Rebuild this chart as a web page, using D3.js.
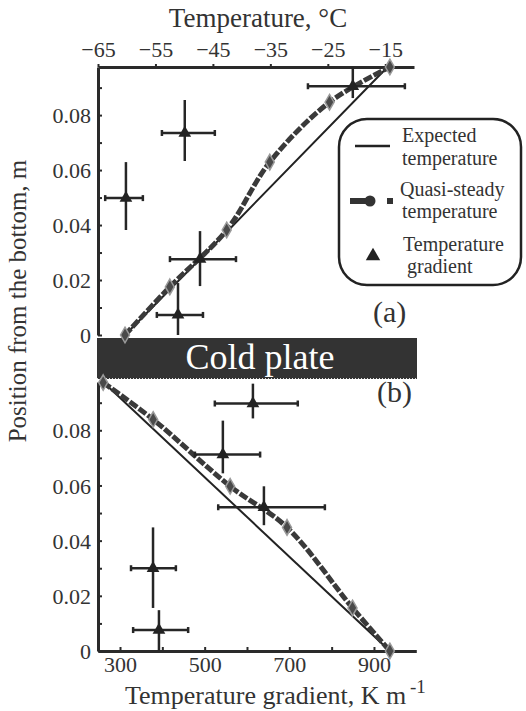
<!DOCTYPE html>
<html>
<head>
<meta charset="utf-8">
<script src="https://cdn.jsdelivr.net/npm/d3@7"></script>
<style>
  body { margin: 0; background: #fff; }
  svg text { font-family: "Liberation Serif", "Times New Roman", Times, "DejaVu Serif", serif; fill: #333; }
</style>
</head>
<body>
<div id="chart"></div>
<script>
"use strict";

// axis ticks
const tempTicks = [-65, -55, -45, -35, -25, -15];
const gradTicks = [300, 400, 500, 600, 700, 800, 900];
const gradLabels = [300, 500, 700, 900];
const posTicks = [0, 0.01, 0.02, 0.03, 0.04, 0.05, 0.06, 0.07, 0.08, 0.09];
const posLabels = [0, 0.02, 0.04, 0.06, 0.08];

// panel (a): above the cold plate
const expA_T = [-60.3, -42.6, -14.6];
const expA_pos = [0, 0.0375, 0.0975];
const qsA_T = [-60.3, -52.5, -42.6, -35.1, -24.7, -14.2];
const qsA_pos = [0, 0.0175, 0.0382, 0.0629, 0.0847, 0.0975];
const gradA = [453, 314, 489, 437, 850];
const gradA_lo = [399, 265, 418, 387, 744];
const gradA_hi = [524, 354, 574, 496, 973];
const gradA_pos = [0.0735, 0.0498, 0.0276, 0.0073, 0.0905];
const gradA_posLo = [0.0633, 0.0382, 0.0178, 0, 0.0862];
const gradA_posHi = [0.0855, 0.0629, 0.0378, 0.0189, 0.0975];

// panel (b): below the cold plate
const expB_T = [-64.1, -14.2];
const expB_pos = [0.0975, 0];
const qsB_T = [-64.1, -55.4, -42.0, -32.1, -20.7, -14.2];
const qsB_pos = [0.0973, 0.0839, 0.0597, 0.0448, 0.0156, 0];
const gradB = [614, 543, 640, 378, 392];
const gradB_lo = [524, 477, 532, 326, 331];
const gradB_hi = [720, 631, 784, 432, 461];
const gradB_pos = [0.0897, 0.0712, 0.0521, 0.0300, 0.0076];
const gradB_posLo = [0.0843, 0.0644, 0.0456, 0.0156, 0];
const gradB_posHi = [0.0969, 0.0835, 0.0597, 0.0448, 0.0148];

const size = { width: 526, height: 711 };
const left = 98;
const serif = "'Liberation Serif', 'Times New Roman', Times, 'DejaVu Serif', serif";

let svg = "";

window.onload = function () {
  svg = d3.select("#chart").append("svg")
    .attr("width", size.width)
    .attr("height", size.height)
    .style("font-family", serif);

  const xT = d3.scaleLinear().domain([-65, -10]).range([left, 414]);
  const xG = d3.scaleLinear().domain([248, 1000]).range([left, 416.3]);
  const yA = d3.scaleLinear().domain([0, 0.0975]).range([335, 67]);
  const yB = d3.scaleLinear().domain([0, 0.0975]).range([651, 382]);

  drawAxes(xT, xG, yA, yB);
  drawColdPlate();

  drawPanel(xT, xG, yA, {
    expT: expA_T, expPos: expA_pos, qsT: qsA_T, qsPos: qsA_pos,
    g: gradA, gLo: gradA_lo, gHi: gradA_hi, p: gradA_pos, pLo: gradA_posLo, pHi: gradA_posHi
  });
  drawPanel(xT, xG, yB, {
    expT: expB_T, expPos: expB_pos, qsT: qsB_T, qsPos: qsB_pos,
    g: gradB, gLo: gradB_lo, gHi: gradB_hi, p: gradB_pos, pLo: gradB_posLo, pHi: gradB_posHi
  });

  drawLegend();
  makeLabels();
};

function drawAxes(xT, xG, yA, yB) {
  let fmt = d => d === 0 ? "0" : d.toFixed(2);

  let top = svg.append("g")
    .attr("transform", "translate(0," + yA.range()[1] + ")")
    .call(d3.axisTop(xT).tickValues(tempTicks).tickSizeInner(3).tickSizeOuter(0).tickPadding(7));

  let bottom = svg.append("g")
    .attr("transform", "translate(0," + yB.range()[0] + ")")
    .call(d3.axisBottom(xG).tickValues(gradTicks).tickSizeInner(-4).tickSizeOuter(0).tickPadding(5)
      .tickFormat(d => gradLabels.includes(d) ? d : ""));

  let leftA = svg.append("g")
    .attr("transform", "translate(" + left + ",0)")
    .call(d3.axisLeft(yA).tickValues(posTicks).tickSizeInner(-4).tickSizeOuter(0).tickPadding(7)
      .tickFormat(d => posLabels.some(v => Math.abs(v - d) < 1e-9) ? fmt(d) : ""));

  let leftB = svg.append("g")
    .attr("transform", "translate(" + left + ",0)")
    .call(d3.axisLeft(yB).tickValues(posTicks).tickSizeInner(-4).tickSizeOuter(0).tickPadding(7)
      .tickFormat(d => posLabels.some(v => Math.abs(v - d) < 1e-9) ? fmt(d) : ""));

  [top, bottom, leftA, leftB].forEach(g => {
    g.attr("font-family", null);
    g.select(".domain").attr("stroke", "#2a2a2a").attr("stroke-width", 3);
    g.selectAll(".tick line").attr("stroke", "#2a2a2a").attr("stroke-width", 2);
    g.selectAll(".tick text")
      .style("font-family", serif)
      .style("font-size", "22px")
      .attr("fill", "#444");
  });
  leftA.selectAll(".tick text").attr("dy", "0.35em");
  leftB.selectAll(".tick text").attr("dy", "0.35em");
}

function drawColdPlate() {
  svg.append("rect")
    .attr("x", 97).attr("y", 338)
    .attr("width", 320).attr("height", 41)
    .attr("fill", "#333");

  svg.append("line")
    .attr("x1", 97).attr("x2", 417)
    .attr("y1", 378.5).attr("y2", 378.5)
    .attr("stroke", "#ddd").attr("stroke-width", 1)
    .attr("stroke-dasharray", "1,2");

  svg.append("text")
    .attr("x", 260).attr("y", 369)
    .attr("text-anchor", "middle")
    .style("font-size", "36px")
    .style("fill", "#fff")
    .text("Cold plate");
}

function drawPanel(xT, xG, y, d) {
  let line = d3.line().x(p => xT(p[0])).y(p => y(p[1]));

  // expected temperature
  svg.append("path")
    .datum(d.expT.map((t, i) => [t, d.expPos[i]]))
    .attr("d", line)
    .attr("fill", "none")
    .attr("stroke", "#222")
    .attr("stroke-width", 2);

  // quasi-steady temperature
  let qs = d.qsT.map((t, i) => [t, d.qsPos[i]]);
  svg.append("path")
    .datum(qs)
    .attr("d", line.curve(d3.curveCatmullRom.alpha(0.5)))
    .attr("fill", "none")
    .attr("stroke", "#3a3a3a")
    .attr("stroke-width", 5)
    .attr("stroke-dasharray", "9,2");

  svg.selectAll(null)
    .data(qs)
    .enter()
    .append("path")
    .attr("transform", p => "translate(" + xT(p[0]) + "," + y(p[1]) + ")")
    .attr("d", d3.symbol().type(d3.symbolDiamond).size(70))
    .attr("fill", "#4a4a4a")
    .attr("stroke", "#9a9a9a")
    .attr("stroke-width", 1.5);

  // temperature gradient with error bars
  let pts = d.g.map((g, i) => ({ g: g, lo: d.gLo[i], hi: d.gHi[i], p: d.p[i], pLo: d.pLo[i], pHi: d.pHi[i] }));
  let bars = svg.append("g").attr("stroke", "#262626").attr("stroke-width", 2.5);

  pts.forEach(p => {
    bars.append("line")
      .attr("x1", xG(p.lo)).attr("x2", xG(p.hi))
      .attr("y1", y(p.p)).attr("y2", y(p.p));
    bars.append("line")
      .attr("x1", xG(p.lo)).attr("x2", xG(p.lo))
      .attr("y1", y(p.p) - 3).attr("y2", y(p.p) + 3);
    bars.append("line")
      .attr("x1", xG(p.hi)).attr("x2", xG(p.hi))
      .attr("y1", y(p.p) - 3).attr("y2", y(p.p) + 3);
    bars.append("line")
      .attr("x1", xG(p.g)).attr("x2", xG(p.g))
      .attr("y1", y(p.pLo)).attr("y2", y(p.pHi));
  });

  svg.selectAll(null)
    .data(pts)
    .enter()
    .append("path")
    .attr("transform", p => "translate(" + xG(p.g) + "," + y(p.p) + ")")
    .attr("d", d3.symbol().type(d3.symbolTriangle).size(70))
    .attr("fill", "#222");
}

function drawLegend() {
  let lg = svg.append("g");

  lg.append("rect")
    .attr("x", 339).attr("y", 119)
    .attr("width", 182).attr("height", 166)
    .attr("rx", 28).attr("ry", 28)
    .attr("fill", "none")
    .attr("stroke", "#222")
    .attr("stroke-width", 2.5);

  lg.append("line")
    .attr("x1", 355).attr("x2", 390)
    .attr("y1", 146).attr("y2", 146)
    .attr("stroke", "#222").attr("stroke-width", 2.5);

  lg.append("line")
    .attr("x1", 350).attr("x2", 370)
    .attr("y1", 201).attr("y2", 201)
    .attr("stroke", "#333").attr("stroke-width", 6);
  lg.append("circle")
    .attr("cx", 370).attr("cy", 201).attr("r", 5.5)
    .attr("fill", "#333");
  lg.append("rect")
    .attr("x", 387).attr("y", 198)
    .attr("width", 6).attr("height", 6)
    .attr("fill", "#333");

  lg.append("path")
    .attr("transform", "translate(373,256)")
    .attr("d", d3.symbol().type(d3.symbolTriangle).size(90))
    .attr("fill", "#222");

  let rows = [
    ["Expected", 402, 142], ["temperature", 402, 165],
    ["Quasi-steady", 400, 196], ["temperature", 402, 218],
    ["Temperature", 403, 251], ["gradient", 407, 273]
  ];
  lg.selectAll("text")
    .data(rows)
    .enter()
    .append("text")
    .attr("x", r => r[1])
    .attr("y", r => r[2])
    .style("font-size", "20px")
    .text(r => r[0]);
}

function makeLabels() {
  svg.append("text")
    .attr("x", 258).attr("y", 27)
    .attr("text-anchor", "middle")
    .style("font-size", "27px")
    .text("Temperature, \u00B0C");

  let xt = svg.append("text")
    .attr("x", 125).attr("y", 704)
    .style("font-size", "26px")
    .text("Temperature gradient, K m");
  xt.append("tspan")
    .attr("dy", -11)
    .style("font-size", "19px")
    .text("\u2009-1");

  svg.append("text")
    .attr("transform", "translate(26,301) rotate(-90)")
    .attr("text-anchor", "middle")
    .style("font-size", "25px")
    .text("Position from the bottom, m");

  svg.append("text")
    .attr("x", 373).attr("y", 322)
    .style("font-size", "30px")
    .text("(a)");

  svg.append("text")
    .attr("x", 377).attr("y", 402)
    .style("font-size", "30px")
    .text("(b)");
}
</script>
</body>
</html>
